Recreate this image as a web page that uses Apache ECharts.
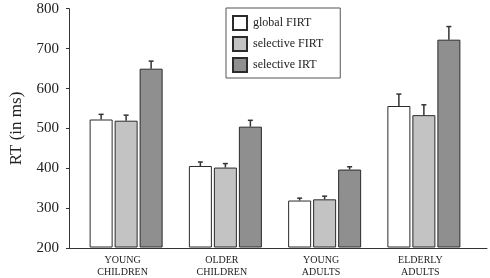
<!DOCTYPE html>
<html>
<head>
<meta charset="utf-8">
<script src="https://cdn.jsdelivr.net/npm/echarts@6/dist/echarts.min.js"></script>
<style>
  html, body { margin: 0; padding: 0; background: #fff; }
  #chart { width: 490px; height: 278px; }
</style>
</head>
<body>
<div id="chart"></div>
<script>
const categories = ['YOUNG\nCHILDREN', 'OLDER\nCHILDREN', 'YOUNG\nADULTS', 'ELDERLY\nADULTS'];
const seriesNames = ['global FIRT', 'selective FIRT', 'selective IRT'];
const globalFirt = [521, 404, 317, 555];
const selectiveFirt = [518, 400, 320, 532];
const selectiveIrt = [649, 503, 395, 722];
// upper error (ms above the bar)
const globalFirtErr = [13, 10, 6, 30];
const selectiveFirtErr = [14, 10, 8, 26];
const selectiveIrtErr = [19, 16, 7, 33];

const values = [globalFirt, selectiveFirt, selectiveIrt];
const errors = [globalFirtErr, selectiveFirtErr, selectiveIrtErr];
const fills = ['#ffffff', '#c3c3c3', '#8f8f8f'];
const font = '"Liberation Serif", "DejaVu Serif", serif';
const BAR_W = 23, BAR_GAP = 2;

const chart = echarts.init(document.getElementById('chart'));

const bars = values.map(function (vals, i) {
  return {
    name: seriesNames[i],
    type: 'bar',
    xAxisIndex: 1,
    yAxisIndex: 1,
    barWidth: BAR_W,
    barGap: (BAR_GAP / BAR_W * 100) + '%',
    data: vals,
    itemStyle: { color: fills[i], borderColor: '#2b2b2b', borderWidth: 1 },
    emphasis: { disabled: true },
    z: 2
  };
});

const errSeries = values.map(function (vals, i) {
  return {
    type: 'custom',
    xAxisIndex: 1,
    yAxisIndex: 1,
    data: vals.map(function (v, k) { return [k, v, v + errors[i][k]]; }),
    renderItem: function (params, api) {
      const base = api.coord([api.value(0), api.value(1)]);
      const top = api.coord([api.value(0), api.value(2)]);
      const x = base[0] + (i - 1) * (BAR_W + BAR_GAP);
      return {
        type: 'group',
        children: [
          { type: 'line', shape: { x1: x, y1: base[1], x2: x, y2: top[1] },
            style: { stroke: '#333', lineWidth: 1.5 } },
          { type: 'line', shape: { x1: x - 2.5, y1: top[1], x2: x + 2.5, y2: top[1] },
            style: { stroke: '#333', lineWidth: 1.5 } }
        ]
      };
    },
    silent: true,
    z: 3
  };
});

chart.setOption({
  animation: false,
  backgroundColor: '#fff',
  textStyle: { fontFamily: font, color: '#222' },
  legend: {
    orient: 'vertical',
    left: 226,
    top: 8,
    padding: [7, 17, 5, 6],
    icon: 'rect',
    itemWidth: 14,
    itemHeight: 14,
    itemGap: 5,
    borderColor: '#555',
    borderWidth: 1,
    selectedMode: false,
    data: seriesNames,
    textStyle: { fontFamily: font, fontSize: 12, color: '#222', padding: [0, 0, 0, 1] }
  },
  grid: [
    { left: 63, right: 3, top: 8.7, bottom: 29.7 },
    { left: 76.5, width: 397, top: 8.7, bottom: 29.7 }
  ],
  xAxis: [
    {
      type: 'value', gridIndex: 0, min: 0, max: 1,
      axisLine: { show: true, onZero: false, lineStyle: { color: '#333', width: 1 } },
      axisTick: { show: false }, axisLabel: { show: false }, splitLine: { show: false }
    },
    {
      type: 'category', gridIndex: 1, data: categories,
      axisLine: { show: false }, axisTick: { show: false },
      axisLabel: {
        fontFamily: font, fontSize: 10, color: '#222', lineHeight: 12,
        margin: 7, padding: [0, 7, 0, 0]
      }
    }
  ],
  yAxis: [
    {
      type: 'value', gridIndex: 0, min: 200, max: 800, interval: 100,
      name: 'RT (in ms)', nameLocation: 'middle', nameGap: 44, nameRotate: 90,
      nameTextStyle: { fontFamily: font, fontSize: 17, color: '#222' },
      axisLine: { show: true, lineStyle: { color: '#333', width: 1 } },
      axisTick: { show: true, length: 3, lineStyle: { color: '#333' } },
      axisLabel: { fontFamily: font, fontSize: 15, color: '#222', margin: 10 },
      splitLine: { show: false }
    },
    {
      type: 'value', gridIndex: 1, min: 200, max: 800, interval: 100, show: false
    }
  ],
  series: bars.concat(errSeries)
});

window.addEventListener('resize', function () { chart.resize(); });
</script>
</body>
</html>
